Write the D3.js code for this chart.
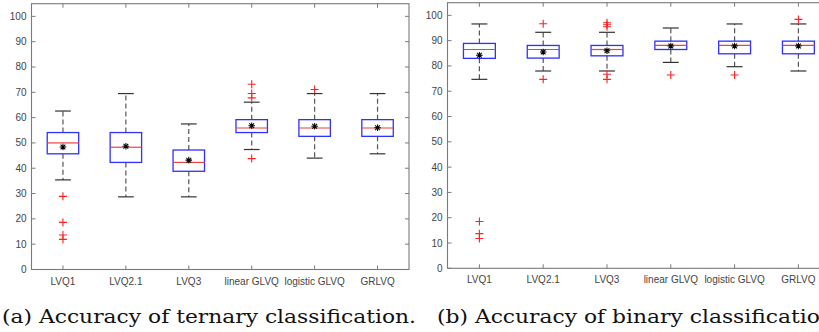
<!DOCTYPE html>
<html><head><meta charset="utf-8">
<script src="https://cdn.jsdelivr.net/npm/d3@7"></script>
<style>body{margin:0;background:#fff}svg{display:block}</style>
</head><body>
<svg id="c" width="819" height="332"></svg>
<script>
const categories = ["LVQ1","LVQ2.1","LVQ3","linear GLVQ","logistic GLVQ","GRLVQ"];
const yTicks = [0,10,20,30,40,50,60,70,80,90,100];
// ternary classification: [lowWhisker, q1, median, q3, highWhisker]
const ternaryStats = [
  [35.4,45.7,50.0,54.1,62.6],
  [28.7,42.3,48.3,54.1,69.5],
  [28.7,38.8,42.3,47.2,57.5],
  [47.4,54.1,55.9,59.2,66.1],
  [44.0,52.6,55.9,59.2,69.5],
  [45.7,52.6,55.9,59.2,69.5]
];
const ternaryMeans = [48.4,48.7,43.2,56.8,56.6,56.0];
const ternaryOutliers = [
  [28.9,18.6,13.6,11.9],
  [],
  [],
  [73.2,69.5,67.8,43.8],
  [71.1],
  []
];
// binary classification
const binaryStats = [
  [74.7,83.0,86.5,88.9,96.6],
  [78.0,83.1,86.5,88.1,93.3],
  [78.0,84.0,86.5,88.1,93.3],
  [81.4,86.5,88.1,89.8,95.0],
  [79.7,84.8,88.1,89.8,96.6],
  [78.0,84.8,88.1,89.8,96.6]
];
const binaryMeans = [84.2,85.5,86.0,87.9,87.9,87.9];
const binaryOutliers = [
  [18.5,13.7,11.8],
  [96.7,74.7],
  [97.1,96.3,95.5,76.7,74.7],
  [76.4],
  [76.4],
  [98.4]
];
const captions = ["(a) Accuracy of ternary classification.","(b) Accuracy of binary classification."];

const svg = d3.select("#c");

function panel(xr, yr, stats, means, outs) {
  const g = svg.append("g");
  const x = d3.scaleLinear().domain([0.5,6.5]).range(xr);
  const y = d3.scaleLinear().domain([0,105]).range(yr);
  const bw = (x(1)-x(0))*0.5, cw = (x(1)-x(0))*0.25;
  const axisCol = "#7a7a7a";
  g.append("rect").attr("x",xr[0]).attr("y",yr[1]).attr("width",xr[1]-xr[0]).attr("height",yr[0]-yr[1])
    .attr("fill","none").attr("stroke",axisCol).attr("stroke-width",1.1);
  yTicks.forEach(t=>{
    g.append("line").attr("x1",xr[0]).attr("x2",xr[0]+4).attr("y1",y(t)).attr("y2",y(t)).attr("stroke",axisCol);
    g.append("line").attr("x1",xr[1]).attr("x2",xr[1]-4).attr("y1",y(t)).attr("y2",y(t)).attr("stroke",axisCol);
    g.append("text").attr("x",xr[0]-5).attr("y",y(t)+3.5).attr("text-anchor","end")
      .attr("font-family","Liberation Sans, Arial, sans-serif").attr("font-size",10).attr("fill","#444").text(t);
  });
  categories.forEach((c,i)=>{
    const cx = x(i+1);
    g.append("line").attr("x1",cx).attr("x2",cx).attr("y1",yr[0]).attr("y2",yr[0]-4).attr("stroke",axisCol);
    g.append("line").attr("x1",cx).attr("x2",cx).attr("y1",yr[1]).attr("y2",yr[1]+4).attr("stroke",axisCol);
    g.append("text").attr("x",cx).attr("y",yr[0]+15).attr("text-anchor","middle")
      .attr("font-family","Liberation Sans Narrow, Liberation Sans, Arial, sans-serif").attr("font-size",10).attr("fill","#444").text(c);
    const s = stats[i];
    g.append("line").attr("x1",cx).attr("x2",cx).attr("y1",y(s[3])).attr("y2",y(s[4]))
      .attr("stroke","#555").attr("stroke-width",1.2).attr("stroke-dasharray","5,3");
    g.append("line").attr("x1",cx).attr("x2",cx).attr("y1",y(s[1])).attr("y2",y(s[0]))
      .attr("stroke","#555").attr("stroke-width",1.2).attr("stroke-dasharray","5,3");
    [s[0],s[4]].forEach(v=>g.append("line").attr("x1",cx-cw/2).attr("x2",cx+cw/2).attr("y1",y(v)).attr("y2",y(v))
      .attr("stroke","#333").attr("stroke-width",1.2));
    g.append("rect").attr("x",cx-bw/2).attr("y",y(s[3])).attr("width",bw).attr("height",y(s[1])-y(s[3]))
      .attr("fill","none").attr("stroke","#3030ff").attr("stroke-width",1.3);
    g.append("line").attr("x1",cx-bw/2).attr("x2",cx+bw/2).attr("y1",y(s[2])).attr("y2",y(s[2]))
      .attr("stroke","#f04040").attr("stroke-width",1.2);
    outs[i].forEach(v=>{
      const py=y(v);
      g.append("path").attr("d",`M${cx-4},${py}H${cx+4}M${cx},${py-4}V${py+4}`)
        .attr("stroke","#ff2020").attr("stroke-width",1.1).attr("fill","none");
    });
    const my=y(means[i]), r=3.3, d=r*0.72;
    g.append("path").attr("d",`M${cx-r},${my}H${cx+r}M${cx},${my-r}V${my+r}M${cx-d},${my-d}L${cx+d},${my+d}M${cx-d},${my+d}L${cx+d},${my-d}`)
      .attr("stroke","#000").attr("stroke-width",1.05).attr("fill","none");
  });
}

panel([31.5,409],[269.5,3.7],ternaryStats,ternaryMeans,ternaryOutliers);
panel([447.5,830.3],[268.3,2.7],binaryStats,binaryMeans,binaryOutliers);

// captions: scale width to match the reference's wide serif face
const capA = svg.append("text").attr("x",2).attr("y",323)
  .attr("font-family","DejaVu Serif, Liberation Serif, serif").attr("font-size",19).attr("fill","#111").text(captions[0]);
const natA = capA.node().getComputedTextLength();
const k = 414/natA;
capA.attr("textLength",414).attr("lengthAdjust","spacingAndGlyphs");
const capB = svg.append("text").attr("x",437).attr("y",323)
  .attr("font-family","DejaVu Serif, Liberation Serif, serif").attr("font-size",19).attr("fill","#111").text(captions[1]);
const natB = capB.node().getComputedTextLength();
capB.attr("textLength",natB*k).attr("lengthAdjust","spacingAndGlyphs");
</script>
</body></html>
